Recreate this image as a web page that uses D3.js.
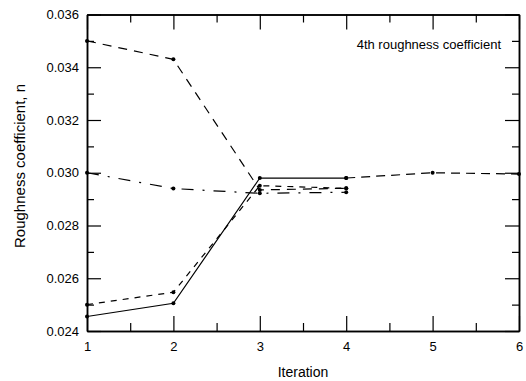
<!DOCTYPE html>
<html>
<head>
<meta charset="utf-8">
<script src="https://cdn.jsdelivr.net/npm/d3@7"></script>
<style>
  html, body { margin: 0; padding: 0; background: #fff; }
  svg { display: block; }
  text { font-family: "Liberation Sans", Arial, sans-serif; fill: #000; }
</style>
</head>
<body>
<svg id="chart" width="526" height="381"></svg>
<script>
// ---- data ----
const iterations = [1, 2, 3, 4];
const solidSeries = [0.02455, 0.02505, 0.0298, 0.0298];
const longDashSeries = [0.0350, 0.0343, 0.02935, 0.02941];
const dashDotSeries = [0.0300, 0.0294, 0.02922, 0.02926];
const shortDashSeries = [0.0250, 0.02547, 0.02951, 0.02941];
const finalIterations = [4, 5, 6];
const finalSeries = [0.0298, 0.0300, 0.02995];
const yMajorTicks = [0.024, 0.026, 0.028, 0.030, 0.032, 0.034, 0.036];
const yMinorTicks = [0.025, 0.027, 0.029, 0.031, 0.033, 0.035];
const xMajorTicks = [1, 2, 3, 4, 5, 6];
const xMinorTicks = [1.5, 2.5, 3.5, 4.5, 5.5];
const annotation = "4th roughness coefficient";
const xTitle = "Iteration";
const yTitle = "Roughness coefficient, n";

// ---- layout ----
const svg = d3.select("#chart");
const L = 87, R = 519, T = 14.5, B = 331;
const x = d3.scaleLinear().domain([1, 6]).range([L, R]);
const y = d3.scaleLinear().domain([0.024, 0.036]).range([B, T]);
const fmt = d3.format(".3f");

function styleAxis(g) {
  g.selectAll("path.domain").attr("stroke", "#000").attr("stroke-width", 1.5);
  g.selectAll(".tick line").attr("stroke", "#000").attr("stroke-width", 1.2);
  g.selectAll(".tick text").style("font-family", '"Liberation Sans", Arial, sans-serif').attr("fill", "#000");
}

// left axis with labels
svg.append("g").attr("transform", `translate(${L},0)`)
  .call(d3.axisLeft(y).tickValues(yMajorTicks).tickFormat(fmt).tickSizeInner(-14).tickSizeOuter(0).tickPadding(8))
  .call(g => g.selectAll("text").style("font-size", "13px"))
  .call(styleAxis);
svg.append("g").attr("transform", `translate(${L},0)`)
  .call(d3.axisLeft(y).tickValues(yMinorTicks).tickFormat("").tickSizeInner(-7).tickSizeOuter(0))
  .call(styleAxis);
// right axis
svg.append("g").attr("transform", `translate(${R},0)`)
  .call(d3.axisRight(y).tickValues(yMajorTicks).tickFormat("").tickSizeInner(-14).tickSizeOuter(0))
  .call(styleAxis);
svg.append("g").attr("transform", `translate(${R},0)`)
  .call(d3.axisRight(y).tickValues(yMinorTicks).tickFormat("").tickSizeInner(-7).tickSizeOuter(0))
  .call(styleAxis);
// bottom axis
svg.append("g").attr("transform", `translate(0,${B})`)
  .call(d3.axisBottom(x).tickValues(xMajorTicks).tickFormat(d3.format("d")).tickSizeInner(-15).tickSizeOuter(0).tickPadding(11))
  .call(g => g.selectAll("text").style("font-size", "13px"))
  .call(styleAxis);
svg.append("g").attr("transform", `translate(0,${B})`)
  .call(d3.axisBottom(x).tickValues(xMinorTicks).tickFormat("").tickSizeInner(-8).tickSizeOuter(0))
  .call(styleAxis);
// top axis
svg.append("g").attr("transform", `translate(0,${T})`)
  .call(d3.axisTop(x).tickValues(xMajorTicks).tickFormat("").tickSizeInner(-15).tickSizeOuter(0))
  .call(styleAxis);
svg.append("g").attr("transform", `translate(0,${T})`)
  .call(d3.axisTop(x).tickValues(xMinorTicks).tickFormat("").tickSizeInner(-8).tickSizeOuter(0))
  .call(styleAxis);

// ---- series ----
const line = d3.line().x(d => x(d[0])).y(d => y(d[1]));
const seriesDefs = [
  { xs: iterations, vals: longDashSeries, dash: "9,7" },
  { xs: iterations, vals: dashDotSeries, dash: "12,9,2,9" },
  { xs: iterations, vals: shortDashSeries, dash: "6,6" },
  { xs: finalIterations, vals: finalSeries, dash: "9,6" },
  { xs: iterations, vals: solidSeries, dash: null }
];
seriesDefs.forEach(s => {
  const pts = s.xs.map((xv, i) => [xv, s.vals[i]]);
  svg.append("path").datum(pts)
    .attr("d", line).attr("fill", "none").attr("stroke", "#000")
    .attr("stroke-width", 1.2)
    .attr("stroke-dasharray", s.dash);
  svg.selectAll(null).data(pts).enter().append("circle")
    .attr("cx", d => x(d[0])).attr("cy", d => y(d[1]))
    .attr("r", 2).attr("fill", "#000");
});

// ---- text ----
svg.append("text").attr("x", 501).attr("y", 49).attr("text-anchor", "end")
  .style("font-size", "13px").text(annotation);
svg.append("text").attr("x", (L + R) / 2).attr("y", 377).attr("text-anchor", "middle")
  .style("font-size", "14px").text(xTitle);
svg.append("text").attr("transform", `translate(25,166) rotate(-90)`)
  .attr("text-anchor", "middle").style("font-size", "15px").text(yTitle);
</script>
</body>
</html>
